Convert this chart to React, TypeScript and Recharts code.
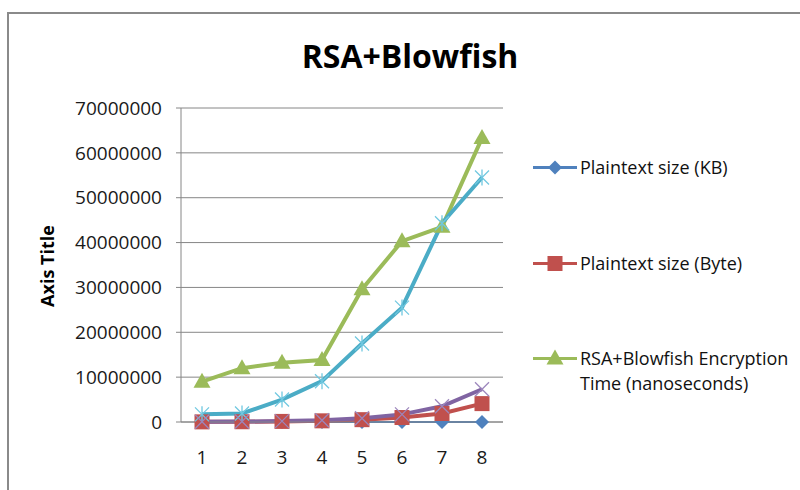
import { CartesianGrid, Legend, Line, LineChart, XAxis, YAxis } from "recharts";

const categories = ["1", "2", "3", "4", "5", "6", "7", "8"];
const plaintextKb = [32, 64, 128, 256, 512, 1024, 2048, 4096];
const plaintextByte = [30000, 60000, 130000, 260000, 520000, 1000000, 1900000, 4100000];
const encryptionTime = [9000000, 12000000, 13200000, 13800000, 29600000, 40300000, 43500000, 63300000];
const series4 = [1700000, 1900000, 5000000, 9100000, 17500000, 25500000, 44300000, 54500000];
const series5 = [50000, 100000, 200000, 400000, 850000, 1700000, 3500000, 7300000];
const yTicks = [0, 10000000, 20000000, 30000000, 40000000, 50000000, 60000000, 70000000];

const data = categories.map((c, i) => ({
  x: c,
  kb: plaintextKb[i],
  byte: plaintextByte[i],
  enc: encryptionTime[i],
  s4: series4[i],
  s5: series5[i],
}));

const FONT = "'Open Sans', sans-serif";
const GRID = "#868686";

type MarkerKind = "diamond" | "square" | "triangle" | "star" | "cross";

function marker(kind: MarkerKind, cx: number, cy: number, color: string, key?: string | number) {
  if (cx == null || cy == null) return <g key={key} />;
  if (kind === "diamond") {
    return <path key={key} d={`M${cx},${cy - 7}L${cx + 7},${cy}L${cx},${cy + 7}L${cx - 7},${cy}Z`} fill={color} />;
  }
  if (kind === "square") {
    return <rect key={key} x={cx - 7.5} y={cy - 7.5} width={15} height={15} fill={color} />;
  }
  if (kind === "triangle") {
    return <path key={key} d={`M${cx},${cy - 9}L${cx + 8.5},${cy + 6}L${cx - 8.5},${cy + 6}Z`} fill={color} />;
  }
  if (kind === "star") {
    return (
      <g key={key} stroke={color} strokeWidth={1.3} fill="none">
        <line x1={cx - 7} y1={cy - 7} x2={cx + 7} y2={cy + 7} />
        <line x1={cx - 7} y1={cy + 7} x2={cx + 7} y2={cy - 7} />
        <line x1={cx} y1={cy - 8} x2={cx} y2={cy + 8} />
      </g>
    );
  }
  return (
    <g key={key} stroke={color} strokeWidth={1.3} fill="none">
      <line x1={cx - 7} y1={cy - 7} x2={cx + 7} y2={cy + 7} />
      <line x1={cx - 7} y1={cy + 7} x2={cx + 7} y2={cy - 7} />
    </g>
  );
}

const legendOrder = ["kb", "byte", "enc"];
const markerOf: Record<string, MarkerKind> = {
  kb: "diamond",
  byte: "square",
  enc: "triangle",
};

function LegendBox(props: any) {
  const items = (props.payload || [])
    .filter((p: any) => markerOf[p.dataKey])
    .sort((a: any, b: any) => legendOrder.indexOf(a.dataKey) - legendOrder.indexOf(b.dataKey));
  return (
    <div style={{ fontFamily: FONT, fontSize: 18, color: "#111" }}>
      {items.map((p: any) => (
        <div key={p.dataKey} style={{ display: "flex", alignItems: "flex-start", height: 95.5 }}>
          <svg width={46} height={25} style={{ flex: "none" }}>
            <line x1={0} y1={12.5} x2={44} y2={12.5} stroke={p.color} strokeWidth={3} />
            {marker(markerOf[p.dataKey], 22, 12.5, p.color)}
          </svg>
          <span style={{ lineHeight: "25px", width: 225, marginLeft: 1 }}>{p.value}</span>
        </div>
      ))}
    </div>
  );
}

export default function App() {
  return (
    <div style={{ position: "absolute", left: 0, top: 0, width: 800, height: 490, overflow: "hidden", background: "#fff" }}>
      <div
        style={{
          position: "absolute",
          left: 7,
          top: 12,
          width: 900,
          height: 600,
          borderLeft: "2px solid #8a8a8a",
          borderTop: "2px solid #8a8a8a",
        }}
      />
      <div
        style={{
          position: "absolute",
          left: 210,
          width: 400,
          top: 32,
          textAlign: "center",
          fontFamily: FONT,
          fontWeight: 700,
          fontSize: 32,
          lineHeight: "48px",
          color: "#000",
        }}
      >
        RSA+Blowfish
      </div>
      <div
        style={{
          position: "absolute",
          left: 47,
          top: 266,
          transform: "translate(-50%, -50%) rotate(-90deg)",
          whiteSpace: "nowrap",
          fontFamily: FONT,
          fontWeight: 700,
          fontSize: 18,
          color: "#000",
        }}
      >
        Axis Title
      </div>
      <div style={{ position: "absolute", left: 0, top: 0 }}>
        <LineChart
          width={800}
          height={490}
          data={data}
          margin={{ top: 108, right: 297, bottom: 28, left: 81 }}
        >
          <CartesianGrid vertical={false} stroke={GRID} strokeWidth={1} />
          <XAxis
            dataKey="x"
            height={40}
            padding={{ left: 21, right: 21 }}
            axisLine={{ stroke: GRID }}
            tickLine={false}
            tickSize={0}
            tickMargin={29}
            interval={0}
            tick={{ fill: "#1a1a1a", fontSize: 19, fontFamily: FONT }}
          />
          <YAxis
            width={100}
            domain={[0, 70000000]}
            ticks={yTicks}
            interval={0}
            axisLine={{ stroke: GRID }}
            tickLine={{ stroke: GRID }}
            tickSize={5}
            tickMargin={14}
            tick={{ fill: "#1a1a1a", fontSize: 19, fontFamily: FONT }}
          />
          <Legend
            verticalAlign="middle"
            align="center"
            layout="vertical"
            wrapperStyle={{ position: "absolute", left: 533, top: 155, width: 267 }}
            content={<LegendBox />}
          />
          <Line
            dataKey="kb"
            name="Plaintext size (KB)"
            stroke="#4F81BD"
            strokeWidth={2}
            isAnimationActive={false}
            dot={(p: any) => marker("diamond", p.cx, p.cy, "#4F81BD", p.index)}
          />
          <Line
            dataKey="byte"
            name="Plaintext size (Byte)"
            stroke="#C0504D"
            strokeWidth={4}
            isAnimationActive={false}
            dot={(p: any) => marker("square", p.cx, p.cy, "#C0504D", p.index)}
          />
          <Line
            dataKey="enc"
            name="RSA+Blowfish Encryption Time (nanoseconds)"
            stroke="#9BBB59"
            strokeWidth={4}
            isAnimationActive={false}
            dot={(p: any) => marker("triangle", p.cx, p.cy, "#9BBB59", p.index)}
          />
          <Line
            dataKey="s4"
            name="Series 4"
            legendType="none"
            stroke="#4BACC6"
            strokeWidth={4}
            isAnimationActive={false}
            dot={(p: any) => marker("star", p.cx, p.cy, "#6FC8E0", p.index)}
          />
          <Line
            dataKey="s5"
            name="Series 5"
            legendType="none"
            stroke="#8064A2"
            strokeWidth={4}
            isAnimationActive={false}
            dot={(p: any) => marker("cross", p.cx, p.cy, "#9C86BC", p.index)}
          />
        </LineChart>
      </div>
    </div>
  );
}
